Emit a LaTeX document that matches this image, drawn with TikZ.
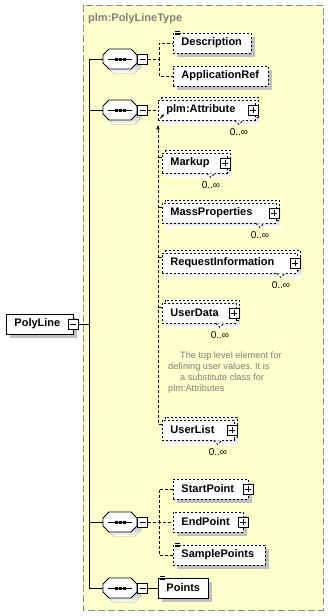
\documentclass[tikz,border=0pt]{standalone}
\usepackage{fontspec}
\setmainfont{Liberation Sans}
\usetikzlibrary{positioning}
\usetikzlibrary{arrows.meta}
\usetikzlibrary{calc}
\usetikzlibrary{shadows}
\definecolor{typebg}{HTML}{FFFFCC}
\definecolor{typeedge}{HTML}{8C8C8C}
\definecolor{shade}{HTML}{C0C0C0}
\definecolor{notegray}{HTML}{808080}
\newcommand{\elfont}{\bfseries\fontsize{11}{13}\selectfont\hyphenpenalty=10000}
\tikzset{
  % An element box of the content model
  elbox/.style={
    draw=black, fill=white, dash pattern=on 2pt off 2pt, line width=0.9pt,
    anchor=west, inner xsep=8pt, inner ysep=0pt, minimum height=20pt,
    align=left, font=\elfont, text width=#1},
  solidbox/.style={elbox=#1, solid},
  elline/.style={draw=black, dash pattern=on 2pt off 2pt, line width=0.9pt},
  shaded/.style={drop shadow={shadow xshift=4pt, shadow yshift=-4pt,
    fill=shade, opacity=1}},
  % The complex type frame
  typeframe/.style={draw=typeedge, fill=typebg, dash pattern=on 7pt off 3pt,
    line width=1pt},
  typetitle/.style={anchor=west, inner sep=0pt, text=notegray,
    font=\bfseries\fontsize{11}{13}\selectfont},
  % Compositors and small boxes
  seqline/.style={draw=black, line width=0.9pt},
  minusbox/.style={draw=black, solid, fill=white, minimum size=10pt,
    inner sep=0pt, line width=0.8pt,
    path picture={\draw[line width=0.8pt]
      ([xshift=2pt]path picture bounding box.west) --
      ([xshift=-2pt]path picture bounding box.east);}},
  plusbox/.style={minusbox,
    path picture={\draw[line width=0.8pt]
      ([xshift=2pt]path picture bounding box.west) --
      ([xshift=-2pt]path picture bounding box.east)
      ([yshift=-2pt]path picture bounding box.north) --
      ([yshift=2pt]path picture bounding box.south);}},
  % Relationships
  link/.style={draw=black, line width=0.9pt},
  dashline/.style={draw=black, dash pattern=on 3pt off 2pt, line width=0.9pt},
  chainline/.style={dashline, -{Latex[length=5pt,width=4pt]}},
  mult/.style={inner sep=0pt, font=\fontsize{10}{12}\selectfont},
  note/.style={anchor=north west, align=left, inner sep=0pt, text=notegray,
    font=\fontsize{9.2}{11}\selectfont\frenchspacing},
}
% octagon of a sequence compositor, #1 name, #2 y of the centre
\newcommand{\seqgroup}[2]{%
  \fill[shade, shift={(4,4)}] (103,#2-4) -- (109,#2-10) -- (131,#2-10) -- (137,#2-4)
    -- (137,#2+4) -- (131,#2+10) -- (109,#2+10) -- (103,#2+4) -- cycle;
  \draw[seqline, fill=white] (103,#2-4) -- (109,#2-10) -- (131,#2-10) -- (137,#2-4)
    -- (137,#2+4) -- (131,#2+10) -- (109,#2+10) -- (103,#2+4) -- cycle;
  \node[inner sep=0pt, minimum width=34pt, minimum height=20pt] (#1) at (120,#2) {};
  \draw[seqline] ([xshift=-12pt]#1.center) -- ([xshift=12pt]#1.center);
  \foreach \dx in {-4,0,4}
    \fill (120+\dx-1.5,#2-1.5) rectangle ++(3,3);
  \node[minusbox, anchor=west] (#1m) at (#1.east) {};}
% element that may repeat, #1 name, #2 x, #3 y, #4 width, #5 text
\newcommand{\multielem}[5]{%
  \fill[shade] (#2+4,#3-6) rectangle ++(#4,20);
  \draw[elline, fill=white] (#2+3,#3-13) rectangle ++(#4,20);
  \pgfmathsetmacro{\tw}{#4-16}
  \node[elbox=\tw pt] (#1) at (#2,#3) {#5};
  \node[plusbox] (#1p) at ([xshift=-3pt]#1.east) {};
  \draw[elline, fill=white] ([xshift=-21pt]#1.south east) -- ++(4,4) -- ++(4,-4);
  \node[mult] (#1n) at ([xshift=-17pt,yshift=-12pt]#1.south east) {0..∞};}
% icon of simple content
\newcommand{\simpleicon}[1]{%
  \foreach \k in {0,1,2}
    \draw[line width=0.6pt] ([xshift=2pt,yshift={(1-1.6*\k)*1pt}]#1.north west) -- ++(5,0);}

\begin{document}
\begin{tikzpicture}[x=1pt, y=-1pt]
  \useasboundingbox (0,0) rectangle (329,616);

  \draw[typeframe] (83,5) rectangle (323,610);
  \node[typetitle] (typename) at (88,19) {plm:PolyLineType};

  \node[solidbox=51pt, shaded] (polyline) at (6,324) {PolyLine};
  \node[minusbox] (polylinem) at ([xshift=-1pt]polyline.east) {};

  \seqgroup{seqa}{59}
  \seqgroup{seqb}{110}
  \seqgroup{seqc}{522}
  \seqgroup{seqd}{588}

  % first sequence
  \node[elbox=62pt, shaded] (description) at (173,43) {Description};
  \simpleicon{description}
  \node[elbox=79pt, shaded] (applicationref) at (173,76) {ApplicationRef};

  % attribute and its substitution group
  \multielem{attribute}{158}{110}{97}{plm:Attribute}
  \draw[-{Stealth[length=3pt,width=3pt]}, line width=0.8pt]
    ([shift={(2pt,2pt)}]attribute.south west) -- ++(4,-4);
  \multielem{markup}{162}{163}{65}{Markup}
  \multielem{massproperties}{162}{213}{114}{MassProperties}
  \multielem{requestinfo}{162}{263}{135}{RequestInformation}
  \multielem{userdata}{162}{313}{74}{UserData}
  \multielem{userlist}{162}{430}{72}{UserList}
  \node[note] (usernote) at (168,352)
    {\hspace*{12pt}The top level element for\\defining user values. It is\\
     \hspace*{12pt}a substitute class for\\plm:Attributes};

  % third sequence
  \node[elbox=59pt, shaded] (startpoint) at (173,489) {StartPoint};
  \node[plusbox] (startpointp) at ([xshift=-1pt]startpoint.east) {};
  \node[elbox=54pt, shaded] (endpoint) at (173,522) {EndPoint};
  \node[plusbox] (endpointp) at ([xshift=-1pt]endpoint.east) {};
  \node[elbox=76pt, shaded] (samplepoints) at (173,555) {SamplePoints};
  \simpleicon{samplepoints}

  \node[solidbox=34pt, shaded] (points) at (158,588) {Points};
  \simpleicon{points}

  % connectors
  \coordinate (trunk) at ([xshift=11pt]polylinem.east);
  \draw[link] (polylinem.east) -- (trunk);
  \draw[link] (seqa.west -| trunk) -- (seqd.west -| trunk);
  \foreach \s in {seqa,seqb,seqc,seqd}
    \draw[link] (\s.west -| trunk) -- (\s.west);

  \draw[dashline] (seqam.east) -- ++(11,0) |- (description.west);
  \draw[dashline] (seqam.east) -- ++(11,0) |- (applicationref.west);
  \draw[dashline] (seqbm.east) -- (attribute.west);
  \draw[chainline] ([yshift=6pt]userlist.west) -- ++(-4,0)
    -- ([yshift=-4pt]attribute.south west);
  \foreach \m in {markup,massproperties,requestinfo,userdata}
    \draw[dashline] ([yshift=6pt]\m.west) -- ++(-4,0);
  \draw[dashline] (seqcm.east) -- ++(11,0) |- (startpoint.west);
  \draw[dashline] (seqcm.east) -- ++(11,0) |- (endpoint.west);
  \draw[dashline] (seqcm.east) -- ++(11,0) |- (samplepoints.west);
  \draw[link] (seqdm.east) -- (points.west);
\end{tikzpicture}
\end{document}
